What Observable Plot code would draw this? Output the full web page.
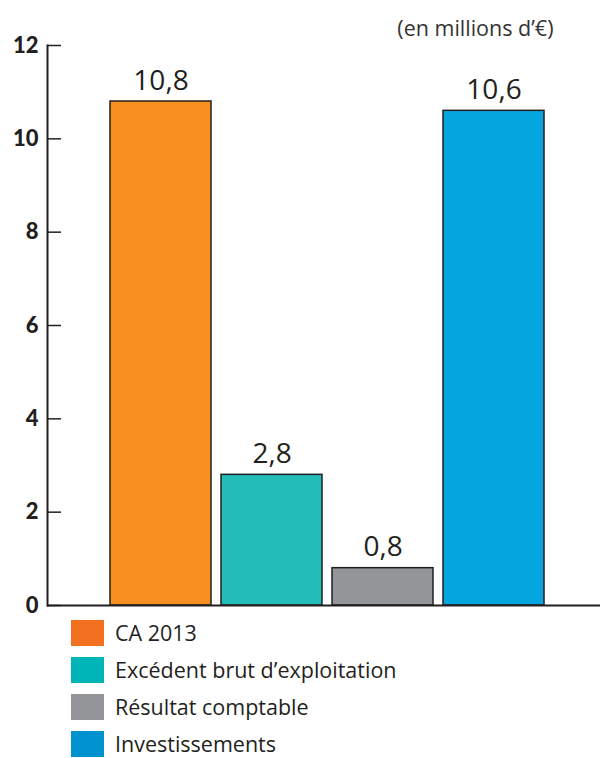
<!DOCTYPE html>
<html>
<head>
<meta charset="utf-8">
<script src="https://cdn.jsdelivr.net/npm/d3@7"></script>
<script src="https://cdn.jsdelivr.net/npm/@observablehq/plot@0.6"></script>
<style>
  html, body { margin: 0; padding: 0; background: #fff; }
  body { width: 600px; height: 758px; font-family: "Open Sans", Lato, sans-serif; color: #231f20; }
  #chart { position: absolute; left: 0; top: 0; }
  #legend { position: absolute; left: 71px; top: 620px; }
  .row { display: flex; align-items: center; height: 26px; margin-bottom: 11px; }
  .sw { width: 33px; height: 26px; margin-right: 11px; flex: none; }
  .lab { font-size: 21.5px; line-height: 1; }
</style>
</head>
<body>
<div id="chart"></div>
<div id="legend"></div>
<script>
const categories = ["CA 2013", "Excédent brut d’exploitation", "Résultat comptable", "Investissements"];
const values = [10.8, 2.8, 0.8, 10.6];
const barColors = ["#f7901e", "#22bcb9", "#939598", "#05a5e0"];
const legendColors = ["#f37021", "#00b5b8", "#939598", "#0093d0"];
const yTicks = [0, 2, 4, 6, 8, 10, 12];
const unitLabel = "(en millions d’€)";

const data = categories.map((c, i) => ({category: c, value: values[i], color: barColors[i]}));
const fmt = v => v.toFixed(1).replace(".", ",");

const W = 600, H = 620, ML = 47, MT = 45, MB = 15;

const chart = Plot.plot({
  width: W,
  height: H,
  marginLeft: ML,
  marginRight: 0,
  marginTop: MT,
  marginBottom: MB,
  style: {fontFamily: "'Open Sans', Lato, sans-serif", color: "#231f20", background: "transparent"},
  x: {domain: categories, range: [98, 556], padding: 0.09, axis: null},
  y: {domain: [0, 12], range: [H - MB, MT]},
  marks: [
    Plot.barY(data, {x: "category", y: "value", fill: "color", stroke: "#231f20", strokeWidth: 1.5}),
    Plot.text(data, {x: "category", y: "value", text: d => fmt(d.value), dy: -12, lineAnchor: "bottom", fontSize: 28, fill: "#231f20"}),
    Plot.ruleY([0], {stroke: "#231f20", strokeWidth: 2}),
    Plot.frame({anchor: "left", stroke: "#231f20", strokeWidth: 2}),
    Plot.ruleY(yTicks, {y: d => d, insetRight: W - ML - 14, stroke: "#231f20", strokeWidth: 1.5}),
    Plot.axisY({ticks: yTicks, tickSize: 0, tickPadding: 9, fontSize: 22, fontWeight: 900, fontFamily: "Lato, sans-serif", label: null, tickFormat: d => String(d)}),
    Plot.text([unitLabel], {frameAnchor: "top-right", text: d => d, dx: -47, dy: -16, textAnchor: "end", lineAnchor: "middle", fontSize: 21.5, fill: "#333"})
  ]
});
document.getElementById("chart").appendChild(chart);

const legend = document.getElementById("legend");
categories.forEach((c, i) => {
  const row = document.createElement("div");
  row.className = "row";
  row.innerHTML = `<div class="sw" style="background:${legendColors[i]}"></div><div class="lab">${c}</div>`;
  legend.appendChild(row);
});
</script>
</body>
</html>
